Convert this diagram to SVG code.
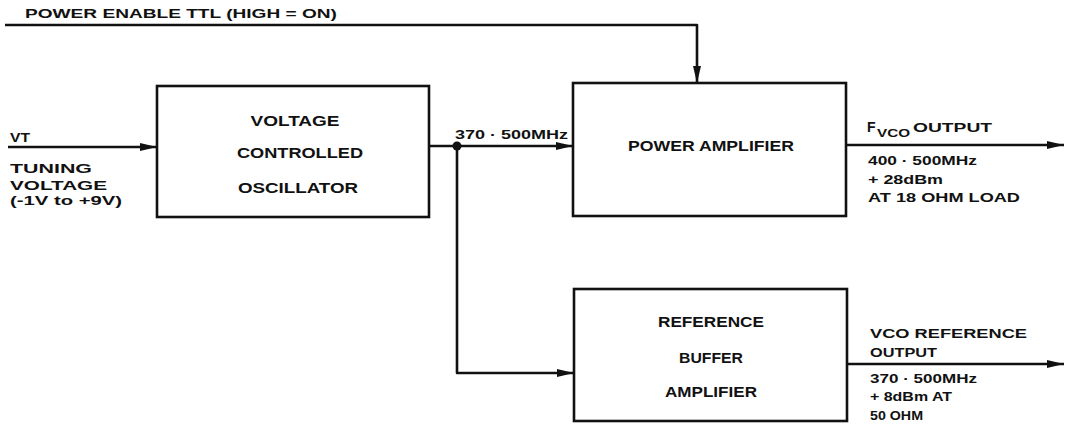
<svg xmlns="http://www.w3.org/2000/svg" width="1065" height="424" viewBox="0 0 1065 424">
<style>
  .box { fill: #fff; stroke: #111; stroke-width: 2.6; }
  .wire { fill: none; stroke: #111; stroke-width: 2.6; stroke-linejoin: round; }
  .t { font-family: "Liberation Sans", Arial, sans-serif; font-weight: bold; fill: #111; }
  .bt { font-size: 15px; text-anchor: middle; }
  .lt { font-size: 13.5px; }
</style>
<defs>
  <marker id="arr" markerUnits="userSpaceOnUse" markerWidth="20" markerHeight="12" refX="17" refY="5" orient="auto">
    <path d="M0,1 L17,5 L0,9 Z" fill="#111"/>
  </marker>
</defs>
<rect width="1065" height="424" fill="#fff"/>

<g id="connectors">
  <path class="wire" d="M5,25 H697 V83" marker-end="url(#arr)"/>
  <path class="wire" d="M8,147 H157" marker-end="url(#arr)"/>
  <path class="wire" d="M429,146 H573" marker-end="url(#arr)"/>
  <path class="wire" d="M457,146 V373 H574" marker-end="url(#arr)"/>
  <circle cx="457" cy="146" r="4.5" fill="#111"/>
  <path class="wire" d="M846,145 H1064" marker-end="url(#arr)"/>
  <path class="wire" d="M847,364 H1064" marker-end="url(#arr)"/>
</g>

<g id="power-enable-label">
  <text class="t lt" x="25" y="18" textLength="312" lengthAdjust="spacingAndGlyphs">POWER ENABLE TTL  (HIGH = ON)</text>
</g>

<g id="vt-input">
  <text class="t lt" x="10" y="142" textLength="20" lengthAdjust="spacingAndGlyphs">VT</text>
  <text class="t lt" x="10" y="173" textLength="82" lengthAdjust="spacingAndGlyphs">TUNING</text>
  <text class="t lt" x="10" y="190" textLength="97" lengthAdjust="spacingAndGlyphs">VOLTAGE</text>
  <text class="t lt" x="10" y="205" textLength="112" lengthAdjust="spacingAndGlyphs">(-1V to +9V)</text>
</g>

<g id="vco">
  <rect class="box" x="157" y="86" width="272" height="131"/>
  <text class="t bt" x="295" y="126" textLength="89" lengthAdjust="spacingAndGlyphs">VOLTAGE</text>
  <text class="t bt" x="300" y="158" textLength="126" lengthAdjust="spacingAndGlyphs">CONTROLLED</text>
  <text class="t bt" x="298" y="193" textLength="120" lengthAdjust="spacingAndGlyphs">OSCILLATOR</text>
</g>

<g id="freq-label">
  <text class="t lt" x="455" y="139" textLength="113" lengthAdjust="spacingAndGlyphs">370 · 500MHz</text>
</g>

<g id="power-amplifier">
  <rect class="box" x="573" y="83" width="273" height="133"/>
  <text class="t bt" x="711" y="151" textLength="166" lengthAdjust="spacingAndGlyphs">POWER AMPLIFIER</text>
</g>

<g id="fvco-output">
  <text class="t" x="867" y="132" font-size="14">F</text>
  <text class="t" x="877" y="137" font-size="11.5" textLength="33" lengthAdjust="spacingAndGlyphs">VCO</text>
  <text class="t lt" x="913" y="132" textLength="79" lengthAdjust="spacingAndGlyphs">OUTPUT</text>
  <text class="t lt" x="868" y="165" textLength="109" lengthAdjust="spacingAndGlyphs">400 · 500MHz</text>
  <text class="t lt" x="868" y="184" textLength="75" lengthAdjust="spacingAndGlyphs">+ 28dBm</text>
  <text class="t lt" x="868" y="202" textLength="152" lengthAdjust="spacingAndGlyphs">AT 18 OHM LOAD</text>
</g>

<g id="reference-buffer-amplifier">
  <rect class="box" x="574" y="289" width="273" height="132"/>
  <text class="t bt" x="711" y="327" textLength="106" lengthAdjust="spacingAndGlyphs">REFERENCE</text>
  <text class="t bt" x="711" y="363" textLength="64" lengthAdjust="spacingAndGlyphs">BUFFER</text>
  <text class="t bt" x="711" y="397" textLength="92" lengthAdjust="spacingAndGlyphs">AMPLIFIER</text>
</g>

<g id="vco-reference-output">
  <text class="t lt" x="870" y="338" textLength="157" lengthAdjust="spacingAndGlyphs">VCO REFERENCE</text>
  <text class="t lt" x="870" y="357" textLength="67" lengthAdjust="spacingAndGlyphs">OUTPUT</text>
  <text class="t lt" x="870" y="383" textLength="107" lengthAdjust="spacingAndGlyphs">370 · 500MHz</text>
  <text class="t lt" x="870" y="401" textLength="82" lengthAdjust="spacingAndGlyphs">+ 8dBm AT</text>
  <text class="t lt" x="870" y="420" textLength="53" lengthAdjust="spacingAndGlyphs">50 OHM</text>
</g>
</svg>
